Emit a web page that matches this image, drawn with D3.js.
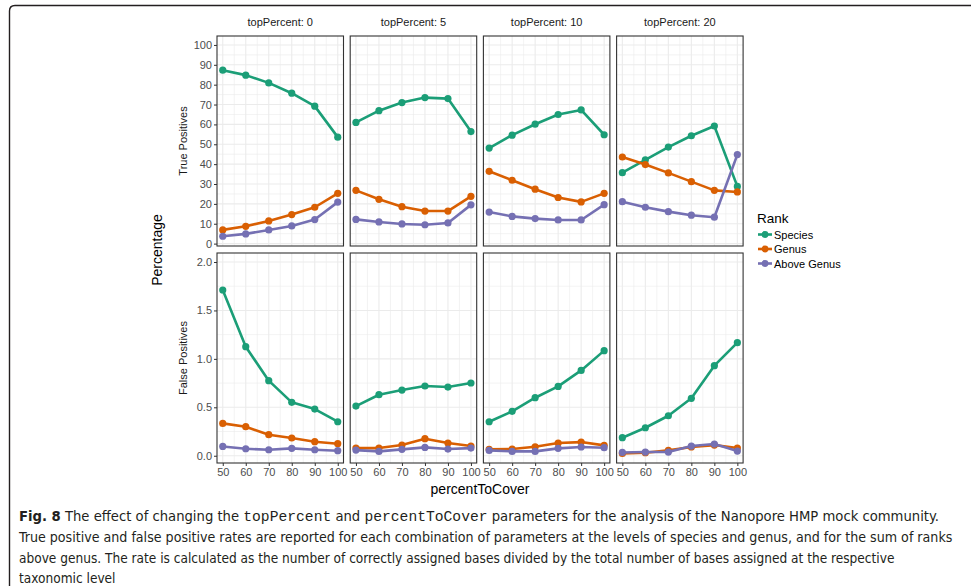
<!DOCTYPE html>
<html><head><meta charset="utf-8">
<script src="https://cdn.jsdelivr.net/npm/d3@7"></script>
<style>
html,body{margin:0;padding:0;background:#fff;}
svg{display:block;}
</style></head>
<body>
<script>
// ---------- data ----------
const percentToCover = [50, 60, 70, 80, 90, 100];
const topPercents = [0, 5, 10, 20];
const ranks = ["Species", "Genus", "Above Genus"];
const rankColors = ["#1B9E77", "#D95F02", "#7570B3"];

// True positives (%) per topPercent panel
const tpSpecies0 = [87.3, 84.8, 80.9, 75.7, 69.2, 53.6];
const tpGenus0   = [6.9, 8.7, 11.4, 14.6, 18.3, 25.3];
const tpAbove0   = [3.7, 4.9, 6.9, 8.9, 12.1, 20.9];
const tpSpecies5 = [61.0, 66.9, 71.0, 73.5, 73.0, 56.4];
const tpGenus5   = [26.8, 22.3, 18.6, 16.4, 16.4, 23.8];
const tpAbove5   = [12.2, 10.9, 9.9, 9.5, 10.4, 19.5];
const tpSpecies10 = [48.1, 54.6, 60.1, 65.0, 67.3, 54.8];
const tpGenus10   = [36.4, 31.9, 27.4, 23.2, 21.0, 25.3];
const tpAbove10   = [15.9, 13.7, 12.6, 11.9, 11.9, 19.6];
const tpSpecies20 = [35.7, 42.2, 48.6, 54.3, 59.2, 28.8];
const tpGenus20   = [43.6, 39.8, 35.6, 31.2, 26.8, 26.0];
const tpAbove20   = [21.1, 18.3, 16.1, 14.3, 13.3, 44.8];

// False positives (%) per topPercent panel
const fpSpecies0 = [1.711, 1.126, 0.775, 0.551, 0.482, 0.351];
const fpGenus0   = [0.334, 0.300, 0.217, 0.183, 0.145, 0.124];
const fpAbove0   = [0.096, 0.072, 0.062, 0.076, 0.062, 0.052];
const fpSpecies5 = [0.513, 0.630, 0.678, 0.720, 0.709, 0.751];
const fpGenus5   = [0.079, 0.079, 0.110, 0.176, 0.131, 0.100];
const fpAbove5   = [0.058, 0.045, 0.066, 0.086, 0.069, 0.079];
const fpSpecies10 = [0.351, 0.458, 0.599, 0.716, 0.881, 1.085];
const fpGenus10   = [0.066, 0.069, 0.093, 0.131, 0.141, 0.107];
const fpAbove10   = [0.055, 0.045, 0.045, 0.076, 0.090, 0.083];
const fpSpecies20 = [0.186, 0.289, 0.413, 0.593, 0.930, 1.167];
const fpGenus20   = [0.024, 0.031, 0.055, 0.090, 0.110, 0.079];
const fpAbove20   = [0.034, 0.038, 0.038, 0.100, 0.121, 0.048];

const tpTicks = [0, 10, 20, 30, 40, 50, 60, 70, 80, 90, 100];
const fpTicks = [0, 0.5, 1.0, 1.5, 2.0];
const xTicks = [50, 60, 70, 80, 90, 100];
const rowTitles = ["True Positives", "False Positives"];

const tpData = [
  [tpSpecies0, tpGenus0, tpAbove0],
  [tpSpecies5, tpGenus5, tpAbove5],
  [tpSpecies10, tpGenus10, tpAbove10],
  [tpSpecies20, tpGenus20, tpAbove20]
];
const fpData = [
  [fpSpecies0, fpGenus0, fpAbove0],
  [fpSpecies5, fpGenus5, fpAbove5],
  [fpSpecies10, fpGenus10, fpAbove10],
  [fpSpecies20, fpGenus20, fpAbove20]
];

// ---------- layout ----------
const W = 971, H = 586;
const svg = d3.select("body").append("svg").attr("width", W).attr("height", H);
const FONT = "'Liberation Sans', Arial, Helvetica, sans-serif";

// frame
svg.append("path")
  .attr("d", "M9.5,586 L9.5,11 Q9.5,5.5 15,5.5 L971,5.5")
  .attr("fill", "none").attr("stroke", "#231f20").attr("stroke-width", 1.4);

const panelLeft0 = 217, panelStep = 133.2, panelW = 126.5;
const rowsY = [[36, 246], [253, 463]];
const yDomains = [[-1.2, 104.5], [-0.075, 2.093]];
const yTicksRows = [tpTicks, fpTicks];
const yMinorRows = [d3.range(5, 100, 10), [0.25, 0.75, 1.25, 1.75]];
const xMinor = [55, 65, 75, 85, 95];
const yFmt = [d3.format("d"), d3.format(".1f")];
const data = [tpData, fpData];

rowsY.forEach((ry, r) => {
  const y = d3.scaleLinear().domain(yDomains[r]).range([ry[1], ry[0]]);
  topPercents.forEach((tp, c) => {
    const x0 = panelLeft0 + c * panelStep;
    const x = d3.scaleLinear().domain([47.5, 102.5]).range([x0, x0 + panelW]);
    const g = svg.append("g");
    // grid minor
    g.selectAll(".ymin").data(yMinorRows[r]).join("line")
      .attr("x1", x0).attr("x2", x0 + panelW)
      .attr("y1", d => y(d)).attr("y2", d => y(d))
      .attr("stroke", "#ebebeb").attr("stroke-width", 0.6);
    g.selectAll(".xmin").data(xMinor).join("line")
      .attr("y1", ry[0]).attr("y2", ry[1])
      .attr("x1", d => x(d)).attr("x2", d => x(d))
      .attr("stroke", "#ebebeb").attr("stroke-width", 0.6);
    // grid major
    g.selectAll(".ymaj").data(yTicksRows[r]).join("line")
      .attr("x1", x0).attr("x2", x0 + panelW)
      .attr("y1", d => y(d)).attr("y2", d => y(d))
      .attr("stroke", "#ebebeb").attr("stroke-width", 1.1);
    g.selectAll(".xmaj").data(xTicks).join("line")
      .attr("y1", ry[0]).attr("y2", ry[1])
      .attr("x1", d => x(d)).attr("x2", d => x(d))
      .attr("stroke", "#ebebeb").attr("stroke-width", 1.1);

    // series
    const line = d3.line().x((d, i) => x(percentToCover[i])).y(d => y(d));
    data[r][c].forEach((vals, k) => {
      g.append("path").datum(vals).attr("d", line)
        .attr("fill", "none").attr("stroke", rankColors[k])
        .attr("stroke-width", 2.6).attr("stroke-linejoin", "round");
      g.selectAll(null).data(vals).join("circle")
        .attr("cx", (d, i) => x(percentToCover[i])).attr("cy", d => y(d))
        .attr("r", 3.6).attr("fill", rankColors[k]);
    });

    // border
    g.append("rect").attr("x", x0).attr("y", ry[0])
      .attr("width", panelW).attr("height", ry[1] - ry[0])
      .attr("fill", "none").attr("stroke", "#333333").attr("stroke-width", 1.1);

    // strip text
    if (r === 0) {
      svg.append("text").attr("x", x0 + panelW / 2).attr("y", 26)
        .attr("text-anchor", "middle").attr("font-family", FONT)
        .attr("font-size", 11).attr("fill", "#1a1a1a")
        .text("topPercent: " + tp);
    }
    // x axis on bottom row
    if (r === 1) {
      const ax = svg.append("g").attr("transform", `translate(0,${ry[1]})`)
        .call(d3.axisBottom(x).tickValues(xTicks).tickSize(3).tickPadding(2).tickFormat(d3.format("d")));
      ax.select(".domain").remove();
      ax.selectAll("line").attr("stroke", "#333333").attr("stroke-width", 1);
      ax.selectAll("text").attr("font-family", FONT).attr("font-size", 11).attr("fill", "#4d4d4d");
    }
    // y axis on first column
    if (c === 0) {
      const ay = svg.append("g").attr("transform", `translate(${x0},0)`)
        .call(d3.axisLeft(y).tickValues(yTicksRows[r]).tickSize(3).tickPadding(2).tickFormat(yFmt[r]));
      ay.select(".domain").remove();
      ay.selectAll("line").attr("stroke", "#333333").attr("stroke-width", 1);
      ay.selectAll("text").attr("font-family", FONT).attr("font-size", 11).attr("fill", "#4d4d4d");
    }
  });
  // row title
  const cy = (ry[0] + ry[1]) / 2;
  svg.append("text").attr("transform", `translate(187,${cy}) rotate(-90)`)
    .attr("text-anchor", "middle").attr("font-family", FONT)
    .attr("font-size", 11).attr("fill", "#1a1a1a").text(rowTitles[r]);
});

// axis titles
svg.append("text").attr("transform", "translate(162,250) rotate(-90)")
  .attr("text-anchor", "middle").attr("font-family", FONT)
  .attr("font-size", 14).attr("fill", "#000").text("Percentage");
svg.append("text").attr("x", 480).attr("y", 494)
  .attr("text-anchor", "middle").attr("font-family", FONT)
  .attr("font-size", 14).attr("fill", "#000").text("percentToCover");

// legend
svg.append("text").attr("x", 757).attr("y", 223).attr("font-family", FONT)
  .attr("font-size", 13.5).attr("fill", "#000").text("Rank");
const lg = svg.append("g");
ranks.forEach((rk, k) => {
  const ly = 234.5 + k * 14.5;
  lg.append("line").attr("x1", 758).attr("x2", 772).attr("y1", ly).attr("y2", ly)
    .attr("stroke", rankColors[k]).attr("stroke-width", 2.6);
  lg.append("circle").attr("cx", 765).attr("cy", ly).attr("r", 3.4).attr("fill", rankColors[k]);
  lg.append("text").attr("x", 774).attr("y", ly + 4).attr("font-family", FONT)
    .attr("font-size", 11).attr("fill", "#000").text(rk);
});

// caption
const CAP = "'Liberation Sans Narrow', 'DejaVu Sans Condensed', 'Open Sans', sans-serif";
const MONO = "'Liberation Mono', 'DejaVu Sans Mono', monospace";
const capLines = [
  {y: 521, len: 921, parts: [["Fig. 8", "b"], [" The effect of changing the ", "n"], ["topPercent", "m"], [" and ", "n"], ["percentToCover", "m"], [" parameters for the analysis of the Nanopore HMP mock community.", "n"]]},
  {y: 542, len: 934, parts: [["True positive and false positive rates are reported for each combination of parameters at the levels of species and genus, and for the sum of ranks", "n"]]},
  {y: 563, len: 876, parts: [["above genus. The rate is calculated as the number of correctly assigned bases divided by the total number of bases assigned at the respective", "n"]]},
  {y: 583, len: 0, parts: [["taxonomic level", "n"]]}
];
let lastSize = 14;
capLines.forEach(l => {
  const t = svg.append("text").attr("x", 19).attr("y", l.y)
    .attr("font-family", CAP).attr("font-size", 15).attr("fill", "#231f20");
  const spans = l.parts.map(p => {
    const s = t.append("tspan").text(p[0]);
    if (p[1] === "b") s.attr("font-weight", "bold");
    if (p[1] === "m") s.attr("font-family", MONO);
    return s;
  });
  let size = lastSize;
  if (l.len) {
    const w = t.node().getComputedTextLength();
    size = Math.min(16, 15 * l.len / w);
    lastSize = size;
  }
  t.attr("font-size", size.toFixed(2));
});
</script>
</body></html>
